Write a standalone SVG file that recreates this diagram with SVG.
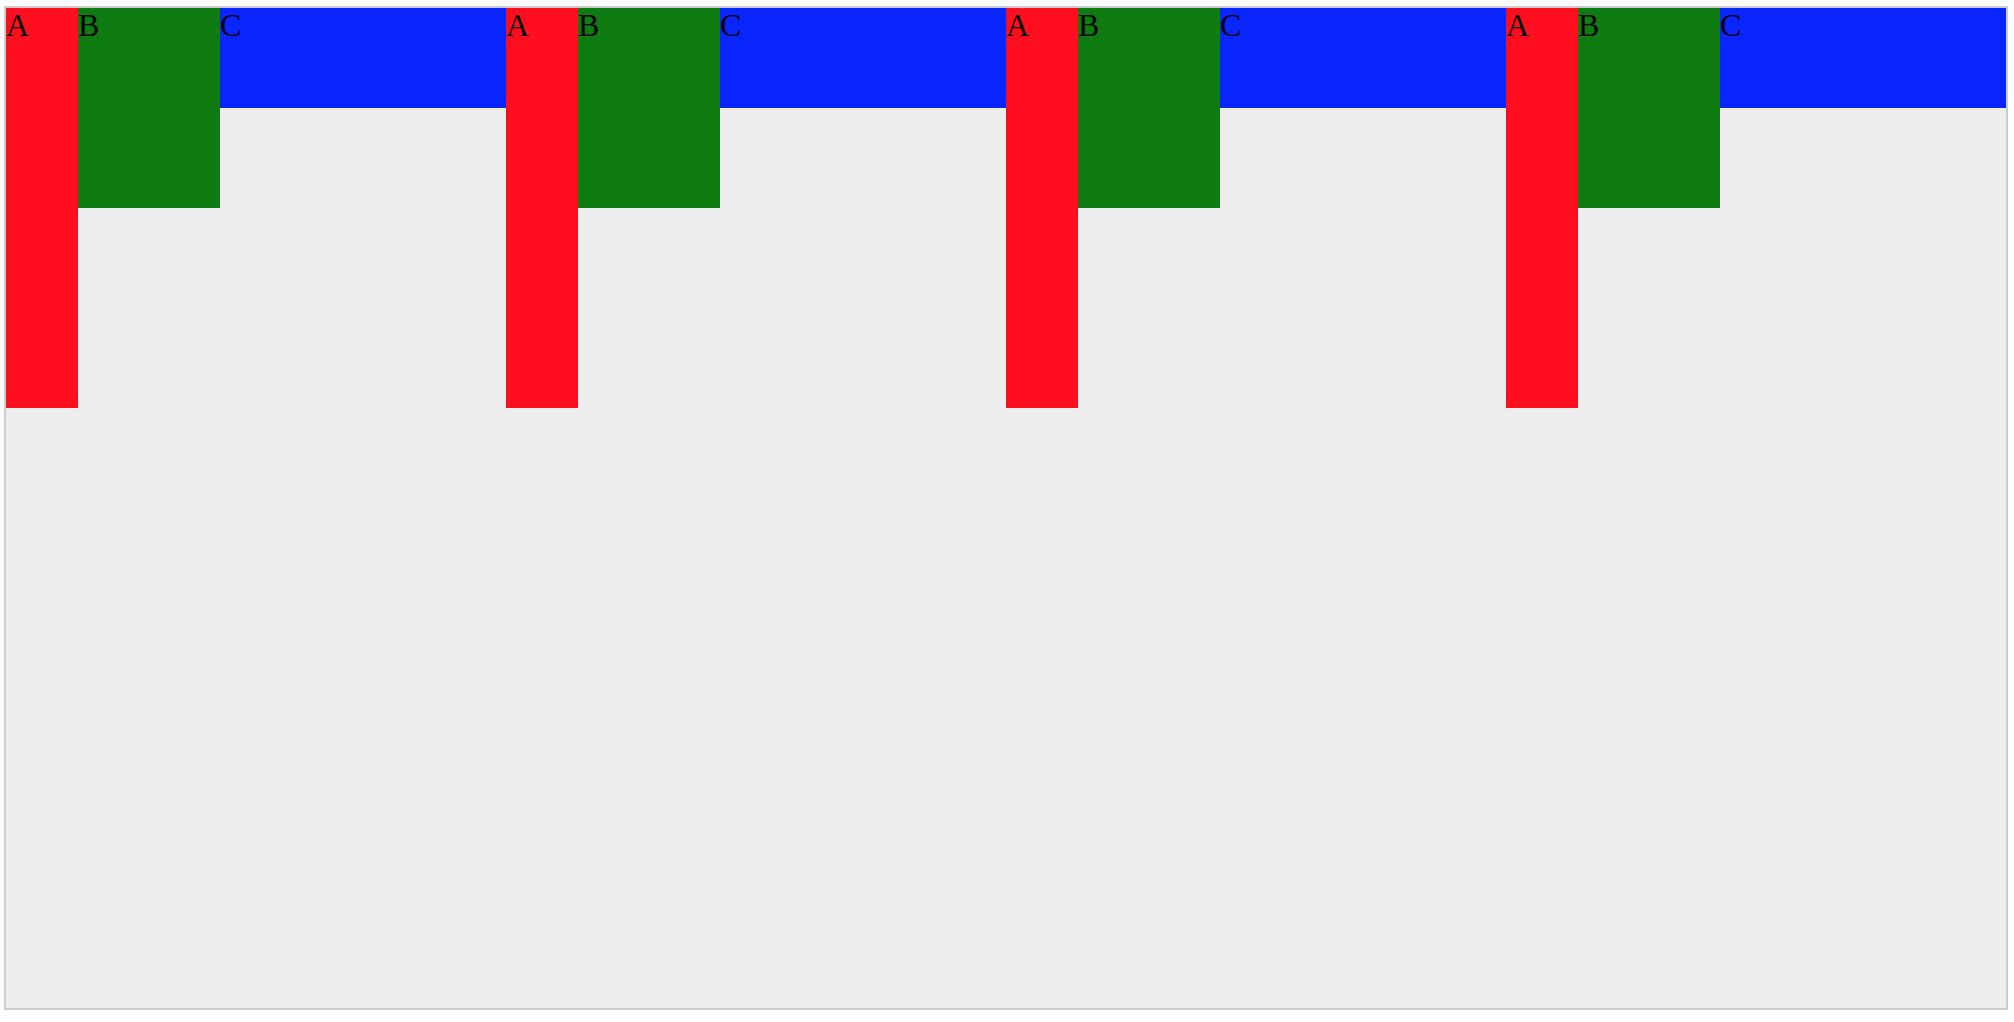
<svg xmlns="http://www.w3.org/2000/svg" width="2014" height="1022" viewBox="0 0 2014 1022">
<style>
.a{fill:#ff0e1e}.b{fill:#0f7c12}.c{fill:#0a26ff}
text{font-family:"Liberation Serif","Times New Roman",serif;font-size:32px;fill:#000}
</style>
<rect x="0" y="0" width="2014" height="1022" fill="#ffffff"/>
<rect x="5" y="7" width="2002" height="1002" fill="#eeeeee" stroke="#cccccc" stroke-width="2"/>
<g id="group1">
<g id="A1"><rect class="a" x="6" y="8" width="72" height="400"/><text x="6" y="36">A</text></g>
<g id="B1"><rect class="b" x="78" y="8" width="142" height="200"/><text x="78" y="36">B</text></g>
<g id="C1"><rect class="c" x="220" y="8" width="286" height="100"/><text x="220" y="36">C</text></g>
</g>
<g id="group2">
<g id="A2"><rect class="a" x="506" y="8" width="72" height="400"/><text x="506" y="36">A</text></g>
<g id="B2"><rect class="b" x="578" y="8" width="142" height="200"/><text x="578" y="36">B</text></g>
<g id="C2"><rect class="c" x="720" y="8" width="286" height="100"/><text x="720" y="36">C</text></g>
</g>
<g id="group3">
<g id="A3"><rect class="a" x="1006" y="8" width="72" height="400"/><text x="1006" y="36">A</text></g>
<g id="B3"><rect class="b" x="1078" y="8" width="142" height="200"/><text x="1078" y="36">B</text></g>
<g id="C3"><rect class="c" x="1220" y="8" width="286" height="100"/><text x="1220" y="36">C</text></g>
</g>
<g id="group4">
<g id="A4"><rect class="a" x="1506" y="8" width="72" height="400"/><text x="1506" y="36">A</text></g>
<g id="B4"><rect class="b" x="1578" y="8" width="142" height="200"/><text x="1578" y="36">B</text></g>
<g id="C4"><rect class="c" x="1720" y="8" width="286" height="100"/><text x="1720" y="36">C</text></g>
</g>
<g id="connectors"></g>
</svg>
